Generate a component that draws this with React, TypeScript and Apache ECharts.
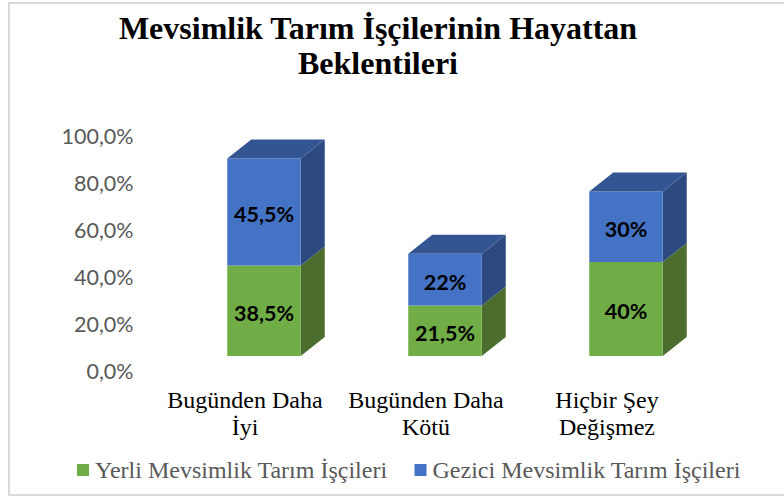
import React, { useEffect, useRef } from "react";
import * as echarts from "echarts";

const titleText = "Mevsimlik Tarım İşçilerinin Hayattan\nBeklentileri";
const categories = ["Bugünden Daha\nİyi", "Bugünden Daha\nKötü", "Hiçbir Şey\nDeğişmez"];
const yerli = [38.5, 21.5, 40];
const gezici = [45.5, 22, 30];
const yerliLabels = ["38,5%", "21,5%", "40%"];
const geziciLabels = ["45,5%", "22%", "30%"];

const SHIFT_X = 19;
const SHIFT_Y = -15;
const DEPTH_X = 24;
const DEPTH_Y = -19;

function makeRender(labels: string[], front: string, side: string, top: string | null) {
  return (params: any, api: any) => {
    const idx = api.value(0);
    const low = api.coord([idx, api.value(1)]);
    const high = api.coord([idx, api.value(2)]);
    const w = api.size([1, 0])[0] * 0.406;
    const x0 = low[0] + SHIFT_X - w / 2;
    const x1 = x0 + w;
    const y0 = low[1] + SHIFT_Y;
    const y1 = high[1] + SHIFT_Y;
    const children: any[] = [
      {
        type: "polygon",
        shape: { points: [[x1, y0], [x1 + DEPTH_X, y0 + DEPTH_Y], [x1 + DEPTH_X, y1 + DEPTH_Y], [x1, y1]] },
        style: { fill: side },
      },
      {
        type: "rect",
        shape: { x: x0, y: y1, width: w, height: y0 - y1 },
        style: { fill: front },
      },
    ];
    if (top) {
      children.push({
        type: "polygon",
        shape: { points: [[x0, y1], [x0 + DEPTH_X, y1 + DEPTH_Y], [x1 + DEPTH_X, y1 + DEPTH_Y], [x1, y1]] },
        style: { fill: top },
      });
    }
    children.push({
      type: "text",
      style: {
        text: labels[idx],
        x: (x0 + x1) / 2,
        y: (y0 + y1) / 2 + 2,
        align: "center",
        verticalAlign: "middle",
        font: 'bold 21.5px Lato',
        fill: "#000000",
      },
    });
    return { type: "group", children };
  };
}

export default function App() {
  const ref = useRef<HTMLDivElement>(null);
  useEffect(() => {
    const chart = echarts.init(ref.current!, undefined, { renderer: "svg" });
    chart.setOption({
      animation: false,
      backgroundColor: "#ffffff",
      title: {
        text: titleText,
        left: 373,
        top: 5,
        textAlign: "center",
        textStyle: {
          fontFamily: "Liberation Serif",
          fontWeight: "bold",
          fontSize: 32,
          lineHeight: 35,
          color: "#000000",
        },
      },
      legend: {
        left: 72,
        top: 453,
        itemWidth: 12,
        itemHeight: 12,
        itemGap: 27,
        icon: "rect",
        textStyle: {
          fontFamily: "Liberation Serif",
          fontSize: 24,
          color: "#595959",
          padding: [0, 0, 0, 1],
        },
        data: ["Yerli Mevsimlik Tarım İşçileri", "Gezici Mevsimlik Tarım İşçileri"],
      },
      grid: { left: 154.5, width: 543, top: 136, height: 235, containLabel: false },
      xAxis: {
        type: "category",
        data: categories,
        axisLine: { show: false },
        axisTick: { show: false },
        axisLabel: {
          interval: 0,
          margin: 15,
          fontFamily: "Liberation Serif",
          fontSize: 24,
          lineHeight: 27,
          color: "#000000",
        },
      },
      yAxis: {
        type: "value",
        min: 0,
        max: 100,
        interval: 20,
        axisLine: { show: false },
        axisTick: { show: false },
        splitLine: { show: false },
        axisLabel: {
          margin: 21,
          fontFamily: "Lato",
          fontSize: 21.5,
          color: "#595959",
          formatter: (v: number) => v.toFixed(1).replace(".", ",") + "%",
        },
      },
      graphic: [
        {
          type: "rect",
          z: -1,
          shape: { x: 9, y: 3, width: 790, height: 492 },
          style: { fill: "none", stroke: "#d9d9d9", lineWidth: 2 },
        },
      ],
      series: [
        {
          type: "custom",
          name: "Yerli Mevsimlik Tarım İşçileri",
          itemStyle: { color: "#70AD47" },
          renderItem: makeRender(yerliLabels, "#70AD47", "#4B6E2F", null),
          encode: { x: 0, y: [1, 2] },
          data: categories.map((_, i) => [i, 0, yerli[i]]),
        },
        {
          type: "custom",
          name: "Gezici Mevsimlik Tarım İşçileri",
          itemStyle: { color: "#4472C4" },
          renderItem: makeRender(geziciLabels, "#4472C4", "#2C4A80", "#335692"),
          encode: { x: 0, y: [1, 2] },
          data: categories.map((_, i) => [i, yerli[i], yerli[i] + gezici[i]]),
        },
      ],
    });
    return () => chart.dispose();
  }, []);
  return (
    <div
      ref={ref}
      style={{ position: "fixed", left: 0, top: 0, width: 784, height: 498 }}
    />
  );
}
